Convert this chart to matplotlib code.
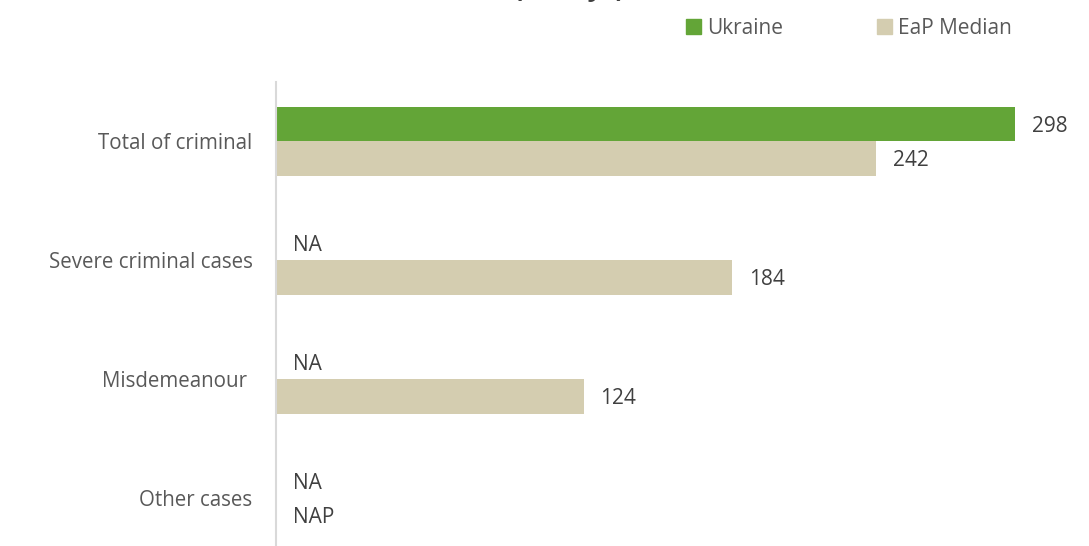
import matplotlib.pyplot as plt
from matplotlib.patches import Patch

categories = ["Total of criminal", "Severe criminal cases", "Misdemeanour ", "Other cases"]
ukraine = [298, None, None, None]
ukraine_text = ["298", "NA", "NA", "NA"]
eap_median = [242, 184, 124, None]
eap_text = ["242", "184", "124", "NAP"]

GREEN = "#63A537"
BEIGE = "#D4CDB0"
TEXT = "#404040"
LABEL = "#595959"

plt.rcParams["font.family"] = ["Open Sans", "DejaVu Sans"]

W, H = 1089, 546
fig = plt.figure(figsize=(W / 100, H / 100), dpi=100)
left, right, top, bottom = 276, 1060, 82, 558
ax = fig.add_axes([left / W, 1 - bottom / H, (right - left) / W, (bottom - top) / H])

n = len(categories)
bar_h = 0.288
ys = list(range(n))
for i in ys:
    u = ukraine[i]
    e = eap_median[i]
    yu = i - bar_h / 2
    ye = i + bar_h / 2
    if u is not None:
        ax.barh(yu, u, height=bar_h, color=GREEN)
    if e is not None:
        ax.barh(ye, e, height=bar_h, color=BEIGE)
    ax.annotate(ukraine_text[i], (u or 0, yu), xytext=(12, -1.5), textcoords="offset points",
                va="center", ha="left", fontsize=15, color=TEXT)
    ax.annotate(eap_text[i], (e or 0, ye), xytext=(12, -1.5), textcoords="offset points",
                va="center", ha="left", fontsize=15, color=TEXT)

ax.set_xlim(0, (right - left) / 2.48)
ax.set_ylim(n - 0.5, -0.5)
ax.set_yticks(ys)
ax.set_yticklabels(categories, fontsize=14.8, color=LABEL)
ax.tick_params(axis="y", length=0, pad=17)
ax.set_xticks([])
for s in ["top", "right", "bottom"]:
    ax.spines[s].set_visible(False)
ax.spines["left"].set_color("#D9D9D9")
ax.spines["left"].set_linewidth(1.5)

handles = [Patch(color=GREEN, label="Ukraine"), Patch(color=BEIGE, label="EaP Median")]
fig.legend(handles=handles, loc="center left", bbox_to_anchor=(676 / W, 1 - 28 / H),
           ncol=2, frameon=False, fontsize=15, handlelength=0.7, handleheight=0.7,
           handletextpad=0.3, columnspacing=4.5, labelcolor=LABEL, borderpad=0)

# chart title, sitting mostly above the canvas edge
fig.text(624 / W, 1 + 4.5 / H, "(in days)", ha="right", va="baseline",
         fontsize=19, fontweight="bold", color=TEXT)

fig.savefig("out.png", dpi=100)
